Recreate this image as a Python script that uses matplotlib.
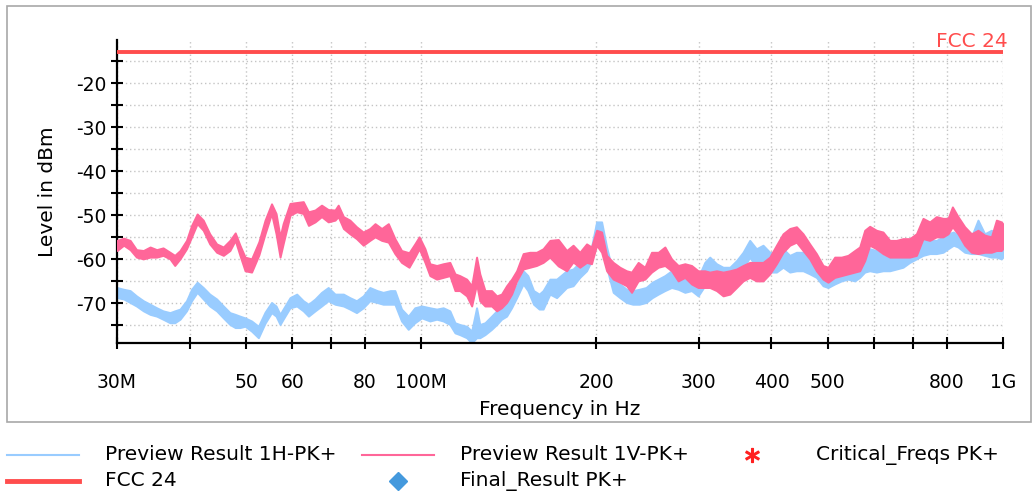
import matplotlib
matplotlib.use('Agg')
import matplotlib.pyplot as plt
from matplotlib.lines import Line2D
from matplotlib.patches import Rectangle
from matplotlib.ticker import FixedLocator, NullFormatter

plt.rcParams['font.family'] = ['DejaVu Sans']
plt.rcParams['axes.unicode_minus'] = False

# Preview Result 1V-PK+ : envelope of the trace (MHz, dBm)
freq_v = [30.0, 30.8, 31.6, 32.4, 33.3, 34.2, 35.1, 36.0, 37.0, 37.7, 38.5, 39.5,
          40.3, 41.2, 42.2, 43.3, 44.5, 45.7, 46.9, 47.9, 48.8, 49.8, 51.1, 52.6,
          53.9, 55.3, 56.3, 57.2, 57.9, 59.5, 61.1, 62.7, 64.0, 65.7, 67.4, 69.2,
          71.1, 72.0, 73.5, 75.4, 77.4, 79.5, 81.6, 83.3, 85.5, 87.8, 90.1, 92.5,
          95.3, 97.5, 99.2, 101.5, 103.5, 106.3, 109.1, 112.0, 114.3, 116.5, 119.7,
          122.1, 124.5, 126.1, 128.7, 132.1, 134.8, 137.4, 140.2, 143.0, 145.9,
          149.7, 153.7, 157.8, 162.0, 166.4, 172.0, 177.8, 182.4, 187.3, 192.4,
          196.2, 200.2, 204.2, 208.3, 213.8, 219.5, 225.4, 229.9, 236.0, 242.3,
          248.8, 255.5, 262.3, 269.3, 276.5, 283.9, 291.5, 299.2, 307.2, 313.3,
          321.8, 330.3, 339.2, 348.3, 357.4, 367.0, 376.8, 386.8, 397.3, 407.9,
          418.7, 430.0, 441.5, 453.2, 465.3, 477.8, 490.5, 500.3, 513.7, 527.5,
          541.5, 556.0, 567.1, 578.5, 590.0, 605.9, 621.9, 638.7, 655.8, 673.2,
          691.2, 709.9, 728.6, 748.2, 768.3, 788.7, 804.5, 818.5, 836.8, 859.3,
          882.4, 905.7, 930.0, 955.0, 974.1, 993.6, 1000.0]
v_high = [-55.7, -55.2, -55.7, -57.8, -58.0, -57.2, -57.8, -57.4, -58.4, -59.1, -58.0, -55.7,
          -52.3, -49.7, -51.1, -54.2, -56.5, -57.2, -55.7, -54.0, -56.8, -59.5, -59.9, -56.0,
          -51.1, -47.4, -49.6, -54.9, -51.9, -47.3, -47.1, -46.9, -49.2, -48.8, -47.7, -48.7,
          -48.8, -47.7, -50.3, -51.1, -52.6, -53.8, -53.0, -51.9, -53.0, -51.9, -55.3, -58.0,
          -58.5, -56.5, -54.9, -57.6, -61.0, -61.4, -61.0, -60.7, -63.3, -63.7, -64.5,
          -66.0, -59.5, -63.3, -67.1, -67.1, -68.3, -67.9, -66.0, -64.5, -62.6,
          -58.7, -58.4, -58.4, -57.6, -55.7, -55.5, -58.0, -56.8, -58.4, -56.5,
          -57.2, -53.4, -53.8, -59.1, -60.7, -61.8, -62.6, -62.9, -60.7, -61.8,
          -58.4, -58.4, -57.2, -59.9, -61.4, -61.0, -61.4, -62.6, -62.6, -62.9,
          -62.6, -62.9, -62.6, -62.2, -61.4, -60.7, -60.7, -60.7, -59.5, -56.8,
          -54.2, -53.0, -52.6, -54.2, -56.5, -58.7, -61.4, -61.8, -59.5, -59.5,
          -59.1, -58.0, -57.2, -53.4, -52.5, -53.4, -53.8, -55.7, -55.7, -55.3,
          -55.3, -54.2, -50.7, -51.5, -50.3, -50.7, -50.7, -48.1, -50.3, -52.6,
          -54.2, -53.4, -54.5, -54.9, -51.1, -51.5, -52.0]
v_low = [-58.0, -56.8, -57.8, -59.5, -59.9, -59.5, -59.5, -59.1, -59.9, -61.4, -59.9, -57.6,
         -54.9, -51.9, -53.4, -56.5, -58.4, -59.1, -58.0, -55.7, -59.1, -62.6, -62.9, -59.0,
         -54.2, -49.6, -54.2, -59.5, -56.5, -50.0, -49.2, -49.6, -52.3, -51.5, -50.3, -51.5,
         -51.1, -50.3, -53.0, -54.2, -55.3, -56.8, -55.7, -54.9, -55.7, -56.1, -58.7, -60.7,
         -61.8, -59.5, -57.6, -60.7, -63.7, -64.5, -64.1, -63.7, -67.1, -67.1, -68.3,
         -70.6, -65.6, -69.4, -70.6, -70.6, -71.7, -71.0, -69.8, -67.9, -64.9,
         -62.2, -61.8, -61.4, -60.7, -59.5, -61.5, -62.6, -60.6, -61.8, -60.7,
         -61.0, -56.8, -58.4, -62.6, -64.5, -65.2, -66.0, -67.5, -64.9, -64.5,
         -62.9, -61.8, -61.4, -62.6, -64.9, -64.1, -65.6, -66.4, -66.4, -66.4,
         -67.1, -68.3, -67.9, -66.4, -64.9, -64.1, -64.9, -64.9, -63.3, -61.0,
         -58.4, -56.8, -56.1, -58.0, -59.9, -62.6, -64.5, -65.2, -64.1, -63.7,
         -63.3, -62.9, -62.6, -60.3, -56.8, -57.6, -58.7, -59.5, -59.5, -59.5,
         -59.5, -59.1, -55.3, -55.7, -54.9, -54.9, -54.2, -52.6, -54.2, -56.8,
         -58.4, -58.7, -58.4, -58.4, -58.0, -58.0, -57.5]

# Preview Result 1H-PK+ : envelope of the trace (MHz, dBm)
freq_h = [30.0, 30.8, 31.6, 32.4, 33.3, 34.2, 35.1, 36.0, 37.0, 37.7, 38.5, 39.5,
          40.3, 41.2, 42.2, 43.3, 44.5, 45.7, 46.9, 47.9, 48.8, 49.8, 51.1, 52.5,
          53.9, 55.3, 56.3, 57.2, 57.9, 59.5, 61.1, 62.7, 64.0, 65.7, 67.4, 69.2,
          71.1, 73.5, 75.4, 77.4, 79.5, 81.6, 84.0, 86.0, 88.5, 90.1, 92.5, 95.0,
          97.5, 100.2, 103.5, 106.3, 109.1, 112.0, 114.3, 116.5, 119.7, 122.1,
          124.5, 126.1, 128.7, 132.1, 134.8, 137.4, 140.2, 143.0, 145.9, 149.7,
          152.5, 156.0, 159.5, 162.0, 166.4, 170.9, 177.8, 182.4, 187.3, 192.4,
          196.2, 200.2, 204.2, 208.3, 213.8, 219.5, 225.4, 231.0, 237.0, 243.5,
          249.5, 255.5, 262.3, 269.3, 276.5, 283.9, 291.5, 299.2, 307.2, 313.3,
          321.8, 330.3, 339.2, 348.3, 357.4, 367.0, 376.8, 386.8, 397.3, 407.9,
          418.7, 430.0, 441.5, 453.2, 465.3, 477.8, 490.5, 500.3, 513.7, 527.5,
          541.5, 556.0, 567.1, 578.5, 590.0, 605.9, 621.9, 638.7, 655.8, 673.2,
          691.2, 709.9, 728.6, 748.2, 768.3, 788.7, 804.5, 822.0, 836.8, 859.3,
          882.4, 905.7, 930.0, 955.0, 974.1, 993.6, 1000.0]
h_high = [-66.4, -66.8, -67.1, -68.3, -69.4, -70.2, -71.0, -71.7, -72.1, -71.7, -71.3, -69.4,
          -66.8, -65.2, -66.4, -67.9, -69.0, -70.6, -72.1, -72.5, -72.9, -73.3, -74.0, -75.2,
          -72.0, -69.8, -70.6, -72.5, -71.3, -68.7, -67.9, -69.4, -70.2, -69.0, -67.5, -66.4,
          -67.9, -67.9, -68.7, -69.4, -68.3, -66.4, -67.1, -67.5, -67.1, -67.1, -71.3, -72.9,
          -71.0, -70.6, -71.0, -71.3, -71.0, -71.7, -74.4, -74.8, -75.2, -76.3,
          -71.0, -74.8, -74.4, -72.9, -71.7, -71.0, -69.8, -67.9, -66.0, -62.6,
          -63.7, -67.1, -67.9, -67.1, -64.5, -64.5, -62.6, -62.2, -60.7, -59.5,
          -57.2, -51.5, -51.5, -57.2, -63.3, -65.6, -66.8, -67.1, -66.8, -66.4,
          -65.2, -64.5, -63.7, -62.6, -63.7, -64.5, -63.3, -64.1, -60.7, -59.5,
          -61.0, -61.8, -61.8, -60.3, -58.4, -55.7, -57.6, -56.8, -58.4, -58.7,
          -57.6, -59.1, -58.4, -58.4, -59.5, -61.0, -62.9, -63.7, -63.3, -62.9,
          -62.6, -62.2, -61.0, -58.7, -57.6, -58.0, -59.1, -59.5, -59.5, -59.1,
          -58.7, -57.6, -55.7, -55.7, -55.7, -54.9, -54.2, -53.8, -54.5, -53.0,
          -54.9, -51.1, -54.2, -53.4, -54.2, -56.5, -56.0]
h_low = [-68.7, -69.0, -69.8, -70.6, -71.7, -72.5, -72.9, -73.6, -74.4, -74.4, -73.6, -71.7,
         -69.4, -67.5, -69.0, -70.6, -71.7, -73.3, -74.8, -75.5, -75.5, -75.2, -76.3, -77.8,
         -74.5, -72.1, -72.9, -74.8, -73.6, -71.0, -70.6, -71.7, -72.9, -71.7, -70.6, -69.4,
         -70.2, -70.6, -71.3, -72.1, -71.0, -69.4, -69.8, -70.2, -70.2, -70.2, -74.0, -75.9,
         -74.4, -73.3, -74.0, -73.6, -74.0, -74.8, -76.7, -77.1, -77.8, -79.0,
         -77.8, -77.8, -77.1, -75.9, -74.8, -73.6, -72.9, -71.0, -68.7, -65.6,
         -67.1, -70.2, -71.3, -71.3, -67.9, -68.7, -66.4, -66.0, -64.1, -62.6,
         -60.3, -55.7, -56.8, -61.8, -67.5, -68.7, -69.8, -70.2, -70.2, -69.8,
         -68.7, -67.9, -67.1, -66.4, -66.8, -67.5, -67.1, -68.3, -66.0, -64.9,
         -65.6, -65.2, -66.4, -64.1, -62.2, -59.5, -61.8, -61.8, -62.9, -62.9,
         -61.8, -62.9, -62.6, -62.6, -63.3, -64.1, -66.0, -66.4, -65.6, -64.9,
         -64.5, -64.9, -64.1, -62.9, -62.6, -62.9, -62.6, -62.6, -62.2, -61.8,
         -60.7, -59.9, -59.1, -58.7, -58.7, -58.4, -57.6, -56.8, -57.2, -58.4,
         -58.7, -58.7, -59.1, -59.5, -59.5, -59.9, -59.5]

# limit line
fcc_freq = [30.0, 1000.0]
fcc_level = [-13.0, -13.0]

major_ticks = [30, 50, 60, 80, 100, 200, 300, 400, 500, 800, 1000]
major_labels = ['30M', '50', '60', '80', '100M', '200', '300', '400', '500', '800', '1G']
minor_ticks = [40, 70, 600, 700]

col_h = '#99ccff'
col_v = '#ff6699'
col_fcc = '#ff4d4d'
txt_size = 14.5

fig = plt.figure(figsize=(10.32, 4.93), dpi=100)
fig.patches.append(Rectangle((7 / 1032, 1 - 422 / 493), 1024 / 1032, 416 / 493,
                             transform=fig.transFigure, fill=False,
                             edgecolor='#a8a8a8', lw=1.2))

ax = fig.add_axes([117 / 1032, 1 - 343 / 493, 886 / 1032, 303 / 493])
ax.set_xscale('log')

ax.fill_between([f * 1e6 for f in freq_h], h_low, h_high, color=col_h, lw=1.4, zorder=2)
ax.fill_between([f * 1e6 for f in freq_v], v_low, v_high, color=col_v, lw=1.4, zorder=3)
ax.plot([f * 1e6 for f in fcc_freq], fcc_level, color=col_fcc, lw=2.8, zorder=4,
        solid_capstyle='butt')

ax.set_xlim(30e6, 1e9)
ax.set_ylim(-79.0, -10.2)

ax.xaxis.set_major_locator(FixedLocator([t * 1e6 for t in major_ticks]))
ax.set_xticklabels(major_labels)
ax.xaxis.set_minor_locator(FixedLocator([t * 1e6 for t in minor_ticks]))
ax.xaxis.set_minor_formatter(NullFormatter())
ax.yaxis.set_major_locator(FixedLocator([-20, -30, -40, -50, -60, -70]))
ax.yaxis.set_minor_locator(FixedLocator([-15, -25, -35, -45, -55, -65, -75]))

ax.grid(True, which='both', color='#c4c4c4', lw=1.0, linestyle=(0, (1, 2)), zorder=0)
ax.set_axisbelow(True)

for s in ['top', 'right']:
    ax.spines[s].set_visible(False)
for s in ['left', 'bottom']:
    ax.spines[s].set_linewidth(1.6)

ax.tick_params(which='both', direction='inout', length=9, width=1.5, labelsize=13.5)
ax.tick_params(axis='x', which='both', pad=17)
ax.tick_params(axis='y', which='both', pad=3)

ax.set_xlabel('Frequency in Hz', fontsize=txt_size, labelpad=6)
ax.set_ylabel('Level in dBm', fontsize=txt_size, labelpad=14)

fig.text(1008 / 1032, 1 - 47 / 493, 'FCC 24', color=col_fcc, fontsize=txt_size,
         ha='right', va='baseline')

# legend drawn below the frame
def legend_entry(x0, y, text, text_x, color=None, lw=2.0, marker=None, ms=10):
    yf = 1 - y / 493
    if marker is None:
        fig.lines.append(Line2D([x0 / 1032, (x0 + 72) / 1032], [yf, yf], color=color,
                                lw=lw, transform=fig.transFigure))
    else:
        fig.lines.append(Line2D([x0 / 1032], [yf], color=color, marker=marker, ms=ms,
                                lw=0, transform=fig.transFigure))
    fig.text(text_x / 1032, yf, text, fontsize=txt_size, va='center', ha='left')

legend_entry(7, 455, 'Preview Result 1H-PK+', 105, color=col_h, lw=1.5)
legend_entry(362, 455, 'Preview Result 1V-PK+', 460, color=col_v, lw=1.5)
legend_entry(752, 455, 'Critical_Freqs PK+', 816, color='#ff2020', marker='$*$', ms=10)
legend_entry(7, 481, 'FCC 24', 105, color=col_fcc, lw=3.5)
legend_entry(398, 481, 'Final_Result PK+', 460, color='#4499dd', marker='D', ms=9)

fig.savefig('out.png', dpi=100)
